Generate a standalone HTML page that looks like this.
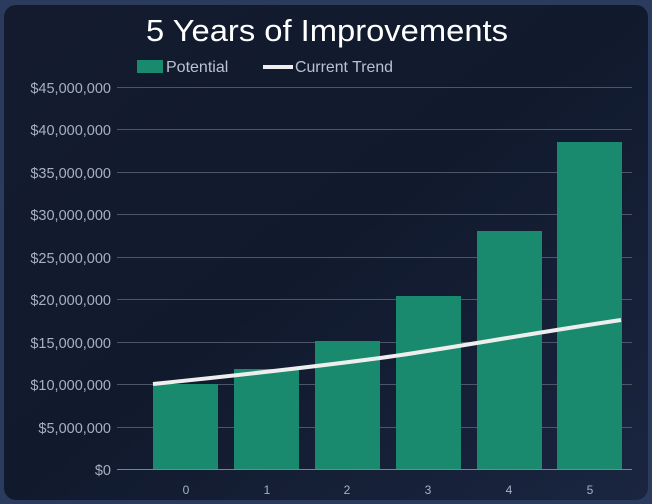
<!DOCTYPE html>
<html><head><style>
html,body{margin:0;padding:0;background:#2b3a5c;}
body{width:652px;height:504px;overflow:hidden;position:relative;font-family:"Liberation Sans","DejaVu Sans",sans-serif;}
</style></head><body>
<svg width="652" height="504" style="position:absolute;left:0;top:0">
<defs>
<linearGradient id="bg" x1="0" y1="0" x2="1" y2="1">
<stop offset="0" stop-color="#141b2e"/><stop offset="0.5" stop-color="#111a2d"/><stop offset="1" stop-color="#1a2540"/>
</linearGradient>
</defs>
<rect x="0" y="0" width="652" height="504" fill="#2b3b5e"/>
<rect x="4" y="5" width="644" height="495" rx="12" fill="url(#bg)"/>
<text x="146" y="41" textLength="362" lengthAdjust="spacingAndGlyphs" fill="#fff" font-size="31">5 Years of Improvements</text>
<rect x="137" y="60" width="26" height="13" fill="#1a8a6e"/>
<text x="166" y="72" fill="#b9c3d3" font-size="16">Potential</text>
<rect x="263" y="65" width="30" height="4" fill="#eeeeee"/>
<text x="295" y="72" textLength="98" lengthAdjust="spacingAndGlyphs" fill="#b9c3d3" font-size="16">Current Trend</text>
<g stroke="#4c5668" stroke-width="1">
<line x1="117" x2="632" y1="87.5" y2="87.5"/>
<line x1="117" x2="632" y1="129.5" y2="129.5"/>
<line x1="117" x2="632" y1="172.5" y2="172.5"/>
<line x1="117" x2="632" y1="214.5" y2="214.5"/>
<line x1="117" x2="632" y1="257.5" y2="257.5"/>
<line x1="117" x2="632" y1="299.5" y2="299.5"/>
<line x1="117" x2="632" y1="342.5" y2="342.5"/>
<line x1="117" x2="632" y1="384.5" y2="384.5"/>
<line x1="117" x2="632" y1="427.5" y2="427.5"/>
<line x1="117" x2="632" y1="469.5" y2="469.5" stroke="#7a8294"/>
</g>
<g fill="#a7b1c2" font-size="14.5" text-anchor="end">
<text x="111" y="93">$45,000,000</text>
<text x="111" y="135">$40,000,000</text>
<text x="111" y="178">$35,000,000</text>
<text x="111" y="220">$30,000,000</text>
<text x="111" y="263">$25,000,000</text>
<text x="111" y="305">$20,000,000</text>
<text x="111" y="348">$15,000,000</text>
<text x="111" y="390">$10,000,000</text>
<text x="111" y="433">$5,000,000</text>
<text x="111" y="475">$0</text>
</g>
<g fill="#1a8a6e">
<rect x="153" y="384" width="65" height="85"/>
<rect x="234" y="369" width="65" height="100"/>
<rect x="315" y="341" width="65" height="128"/>
<rect x="396" y="296" width="65" height="173"/>
<rect x="477" y="231" width="65" height="238"/>
<rect x="557" y="142" width="65" height="327"/>
</g>
<path d="M153,384 C250,374 320,366 380,358 S520,335 621,320" fill="none" stroke="#eeeeee" stroke-width="4"/>
<g fill="#a7b1c2" font-size="12" text-anchor="middle">
<text x="186" y="494">0</text><text x="267" y="494">1</text><text x="347" y="494">2</text>
<text x="428" y="494">3</text><text x="509" y="494">4</text><text x="590" y="494">5</text>
</g>
</svg>
</body></html>
